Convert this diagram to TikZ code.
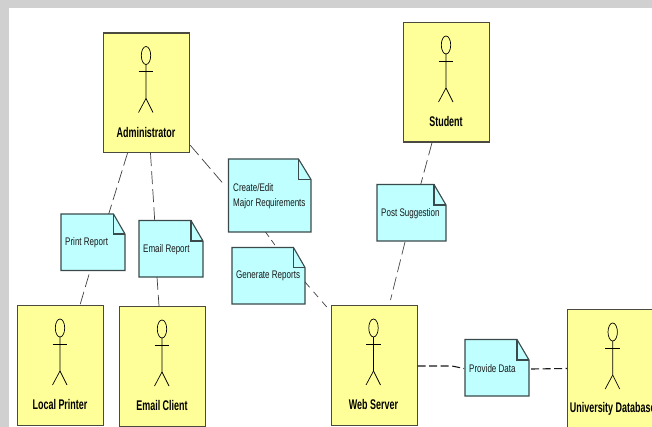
\documentclass[tikz,border=0pt]{standalone}
\usepackage{fontspec}
\setmainfont{Liberation Sans}
\newfontfamily\actorfont[FakeStretch=0.64]{Liberation Sans Bold}
\newfontfamily\notefont[FakeStretch=0.73]{Liberation Sans}
\definecolor{actorfill}{HTML}{FFFF99}
\definecolor{notefill}{HTML}{BFFFFF}
\definecolor{frameline}{HTML}{4A4A40}
\definecolor{notelinecol}{HTML}{3A4A4A}
\definecolor{pagegrey}{HTML}{D0D0D0}
\tikzset{
  actorbox/.style={draw=frameline,line width=1.2pt,fill=actorfill,rectangle,inner sep=0pt,minimum width=86pt,minimum height=119.5pt,anchor=north west},
  notearea/.style={rectangle,inner sep=0pt,anchor=north west},
  notetext/.style={font=\notefont\fontsize{11}{15}\selectfont,align=left,anchor=west,inner sep=0pt,text=black!90},
  actorlabel/.style={font=\actorfont\fontsize{14}{16}\selectfont,inner sep=0pt,text=black},
  figure/.style={line width=.7pt,draw=black},
  conn/.style={line width=.7pt,draw=black!75,dash pattern=on 13pt off 5pt},
  connthick/.style={line width=1.1pt,draw=black!90,dash pattern=on 8pt off 3.5pt}
}
% [figure offset], name, x, y, label
\newcommand{\myactor}[5][0]{%
  \node[actorbox] (#2) at (#3,#4) {};
  \begin{scope}[shift={(#3+#1,#4)}]
    \draw[figure] (43,23) ellipse (4.7 and 9);
    \draw[figure] (35.5,39) -- (50,39);
    \draw[figure] (43,32) -- (43,66) -- (35.5,80);
    \draw[figure] (43,66) -- (50,80);
    \node[actorlabel] (#2-label) at (43,99.5) {#5};
  \end{scope}}
% name, x1, y1, x2, y2, foldx, foldy
\newcommand{\mynote}[7]{%
  \fill[notefill] (#2,#3) -- (#6,#3) -- (#4,#7) -- (#4,#5) -- (#2,#5) -- cycle;
  \draw[notelinecol,line width=1.1pt,line join=miter] (#2,#3) -- (#6,#3) -- (#4,#7) -- (#4,#5) -- (#2,#5) -- cycle;
  \draw[notelinecol,line width=1.1pt] (#6,#3) -- (#6,#7) -- (#4,#7);
  \path (#2,#3) coordinate (#1-nw) (#4,#5) coordinate (#1-se);
  \node[notearea] (#1) at (#2,#3) {};}
\begin{document}
\begin{tikzpicture}[x=1pt,y=-1pt]
\useasboundingbox (0,0) rectangle (652,427);
\fill[pagegrey] (0,0) rectangle (652,427);
\fill[white] (9,8) rectangle (652,427);
\begin{scope}
\clip (0,0) rectangle (652,427);
\myactor{admin}{103}{32.5}{Administrator}
\myactor{student}{403}{22}{Student}
\myactor{printer}{17}{305}{Local Printer}
\myactor{client}{119}{306}{Email Client}
\myactor{server}{330.5}{305}{Web Server}
\myactor[2.7]{database}{567}{309}{University Database}
\mynote{create}{228.5}{159}{311}{232}{298.5}{179.5}
\mynote{print}{61}{214}{125}{270.5}{113.5}{234}
\mynote{email}{139}{220.5}{203}{277}{191}{241}
\mynote{generate}{232}{247.5}{305}{304}{293.5}{267.5}
\mynote{post}{377}{184.5}{446}{241}{434}{205}
\mynote{provide}{465}{339.5}{529}{396}{517}{360}
\end{scope}
\node[notetext] (t1) at (233,188) {Create/Edit};
\node[notetext] (t2) at (233,204) {Major Requirements};
\node[notetext] (t3) at (65,243) {Print Report};
\node[notetext] (t4) at (143,249.5) {Email Report};
\node[notetext] (t5) at (236,276) {Generate Reports};
\node[notetext] (t6) at (381,213.5) {Post Suggestion};
\node[notetext] (t7) at (469,368.5) {Provide Data};
\draw[conn] ([xshift=24.5pt]admin.south west) -- ([xshift=47pt]print.north);
\draw[conn] ([xshift=47.5pt]admin.south west) -- ([xshift=15pt]email.north);
\draw[conn] ([yshift=8pt]admin.south east) -- ([xshift=-4pt,yshift=-27pt]create.north);
\draw[conn,dash pattern=on 6pt off 4pt] ([xshift=37pt]create-nw |- create-se) -- ([xshift=44pt]generate.north);
\draw[conn,dash pattern=on 7pt off 6pt] ([yshift=22pt]generate-se) -- ([xshift=-2pt,yshift=-4pt]server.north west);
\draw[conn] ([xshift=28pt,yshift=-4pt]print-nw |- print-se) -- ([xshift=63pt]printer.north west);
\draw[conn] ([xshift=18pt]email-nw |- email-se) -- ([xshift=40pt]client.north west);
\draw[conn] ([xshift=29pt]student.south west) -- ([xshift=43pt]post.north);
\draw[conn] ([xshift=28pt,yshift=-1pt]post-nw |- post-se) -- ([xshift=60pt,yshift=5pt]server.north west);
\draw[connthick] ([yshift=-61pt]server.north east) -- (452,366) -- (464,368.5);
\draw[connthick] ([xshift=2pt,yshift=27pt]provide-se) -- ([yshift=-59.5pt]database.north west);
\end{tikzpicture}
\end{document}
